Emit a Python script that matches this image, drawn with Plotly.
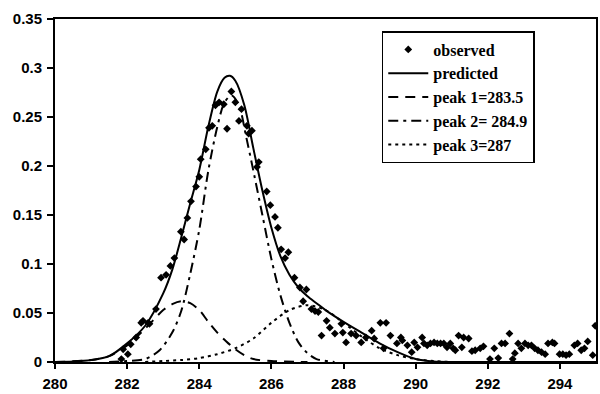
import plotly.graph_objects as go

obs_x = [281.84, 281.89, 282.02, 282.10, 282.25, 282.39, 282.44, 282.58, 282.62, 282.80,
         282.94, 283.08, 283.20, 283.31, 283.49, 283.58, 283.67, 283.77, 283.91, 284.00,
         284.04, 284.18, 284.27, 284.36, 284.45, 284.55, 284.68, 284.77, 284.89, 285.00,
         285.10, 285.17, 285.32, 285.37, 285.46, 285.60, 285.65, 285.87, 285.97, 286.10,
         286.18, 286.27, 286.38, 286.47, 286.64, 286.79, 286.88, 286.97, 287.11, 287.21,
         287.30, 287.39, 287.53, 287.62, 287.76, 287.94, 287.98, 288.07, 288.21, 288.35,
         288.49, 288.62, 288.78, 288.85, 289.02, 289.11, 289.18, 289.30, 289.48, 289.59,
         289.63, 289.77, 289.89, 289.96, 290.05, 290.18, 290.23, 290.32, 290.41, 290.51,
         290.60, 290.69, 290.78, 290.87, 290.96, 291.04, 291.10, 291.19, 291.28, 291.33,
         291.47, 291.56, 291.65, 291.79, 291.88, 292.06, 292.18, 292.29, 292.38, 292.48,
         292.60, 292.69, 292.75, 292.84, 292.93, 293.03, 293.12, 293.21, 293.30, 293.39,
         293.49, 293.59, 293.67, 293.79, 293.85, 293.99, 294.08, 294.17, 294.26, 294.40,
         294.49, 294.59, 294.68, 294.77, 294.91, 294.98]
obs_y = [0.003, 0.013, 0.008, 0.018, 0.025, 0.040, 0.042, 0.040, 0.039, 0.054,
         0.086, 0.089, 0.098, 0.106, 0.133, 0.125, 0.147, 0.164, 0.179, 0.189,
         0.207, 0.217, 0.239, 0.241, 0.262, 0.265, 0.263, 0.238, 0.276, 0.265,
         0.246, 0.258, 0.241, 0.233, 0.236, 0.199, 0.204, 0.174, 0.160, 0.148,
         0.137, 0.115, 0.106, 0.112, 0.086, 0.076, 0.062, 0.074, 0.054, 0.052,
         0.051, 0.027, 0.042, 0.035, 0.029, 0.039, 0.030, 0.020, 0.029, 0.027,
         0.020, 0.025, 0.032, 0.024, 0.040, 0.014, 0.040, 0.027, 0.019, 0.025,
         0.022, 0.017, 0.010, 0.020, 0.015, 0.025, 0.019, 0.017, 0.019, 0.020,
         0.019, 0.019, 0.019, 0.015, 0.019, 0.014, 0.012, 0.027, 0.015, 0.025,
         0.024, 0.011, 0.012, 0.014, 0.016, 0.003, 0.014, 0.004, 0.019, 0.019,
         0.029, 0.003, 0.009, 0.019, 0.014, 0.019, 0.017, 0.017, 0.014, 0.012,
         0.010, 0.008, 0.019, 0.020, 0.019, 0.008, 0.008, 0.007, 0.008, 0.017,
         0.019, 0.012, 0.014, 0.021, 0.007, 0.037]

# ---- predicted curve ----
pred_x = [280.0, 280.5, 281.0, 281.5, 282.0, 282.5, 283.0, 283.25, 283.5, 283.75,
          284.0, 284.25, 284.5, 284.7, 284.85, 285.0, 285.25, 285.5, 285.75, 286.0,
          286.25, 286.5, 286.75, 287.0, 287.25, 287.5, 288.0, 288.5, 289.0, 289.5,
          290.0, 290.5, 291.0, 295.0]
pred_y = [0.0, 0.0005, 0.002, 0.006, 0.019, 0.037, 0.070, 0.094, 0.127, 0.162,
          0.196, 0.240, 0.276, 0.290, 0.292, 0.287, 0.262, 0.218, 0.175, 0.137,
          0.108, 0.089, 0.076, 0.067, 0.060, 0.053, 0.041, 0.030, 0.019, 0.010,
          0.003, 0.0005, 0.0, 0.0]

# ---- peak 1 ----
p1_x = [280.0, 281.0, 281.5, 282.0, 282.5, 283.0, 283.25, 283.5, 283.75, 284.0,
        284.25, 284.5, 284.75, 285.0, 285.25, 285.5, 286.0, 287.0]
p1_y = [0.0, 0.002, 0.006, 0.017, 0.034, 0.053, 0.059, 0.062, 0.060, 0.053,
        0.041, 0.030, 0.021, 0.013, 0.007, 0.003, 0.001, 0.0]

# ---- peak 2 ----
p2_x = [281.5, 282.0, 282.5, 282.9, 283.25, 283.5, 283.75, 284.0, 284.25, 284.5,
        284.7, 284.9, 285.1, 285.3, 285.5, 285.75, 286.0, 286.25, 286.5, 286.75,
        287.0, 287.25, 287.75]
p2_y = [0.0, 0.001, 0.003, 0.012, 0.030, 0.052, 0.090, 0.135, 0.195, 0.240,
        0.265, 0.272, 0.262, 0.230, 0.195, 0.150, 0.105, 0.068, 0.040, 0.020,
        0.009, 0.003, 0.0]

# ---- peak 3 ----
p3_x = [282.5, 283.0, 283.5, 284.0, 284.5, 285.0, 285.5, 286.0, 286.5, 287.0,
        287.5, 288.0, 288.5, 289.0, 289.5, 290.0, 290.5, 291.0]
p3_y = [0.0, 0.001, 0.002, 0.004, 0.008, 0.014, 0.024, 0.040, 0.053, 0.058,
        0.053, 0.040, 0.026, 0.014, 0.007, 0.003, 0.001, 0.0]

x_ticks = [280, 282, 284, 286, 288, 290, 292, 294]
y_ticks = [0, 0.05, 0.1, 0.15, 0.2, 0.25, 0.3, 0.35]
y_tick_text = ["0", "0.05", "0.1", "0.15", "0.2", "0.25", "0.3", "0.35"]

fig = go.Figure()
fig.add_trace(go.Scatter(x=obs_x, y=obs_y, mode="markers", name="observed",
                         marker=dict(symbol="diamond", size=6, color="black")))
fig.add_trace(go.Scatter(x=pred_x, y=pred_y, mode="lines", name="predicted",
                         line=dict(color="black", width=2, shape="spline", smoothing=0.8)))
fig.add_trace(go.Scatter(x=p1_x, y=p1_y, mode="lines", name="peak 1=283.5",
                         line=dict(color="black", width=2, dash="10px,7px", shape="spline", smoothing=0.8)))
fig.add_trace(go.Scatter(x=p2_x, y=p2_y, mode="lines", name="peak 2= 284.9",
                         line=dict(color="black", width=2, dash="10px,5px,3px,5px", shape="spline", smoothing=0.8)))
fig.add_trace(go.Scatter(x=p3_x, y=p3_y, mode="lines", name="peak 3=287",
                         line=dict(color="black", width=2, dash="3px,4px", shape="spline", smoothing=0.8)))

fig.update_layout(
    width=600, height=394,
    margin=dict(l=55, r=2, t=19, b=29),
    paper_bgcolor="white", plot_bgcolor="white",
    showlegend=True,
    legend=dict(x=0.604, y=0.965, xanchor="left", yanchor="top",
                bgcolor="white", bordercolor="black", borderwidth=1.5,
                font=dict(family="Liberation Serif", size=16, color="black", weight="bold"),
                itemwidth=40, tracegroupgap=0),
    font=dict(family="Liberation Sans", color="black"),
)
fig.update_xaxes(range=[280, 295], tickvals=x_ticks, ticks="outside", ticklen=5,
                 tickwidth=1.5, tickcolor="black", showline=True, linecolor="black",
                 linewidth=2, mirror=True, showgrid=False, zeroline=False,
                 ticklabelstandoff=2,
                 tickfont=dict(family="Liberation Sans", size=15, color="black", weight="bold"))
fig.update_yaxes(range=[0, 0.35], tickvals=y_ticks, ticktext=y_tick_text, ticks="outside",
                 ticklen=6, tickwidth=1.5, tickcolor="black", showline=True,
                 linecolor="black", linewidth=2, mirror=True, showgrid=False,
                 zeroline=False, ticklabelstandoff=2,
                 tickfont=dict(family="Liberation Sans", size=15, color="black", weight="bold"))

fig.write_html("out.html", config={"displayModeBar": False},
               post_script="document.body.style.margin='0';document.body.style.overflow='hidden';")
